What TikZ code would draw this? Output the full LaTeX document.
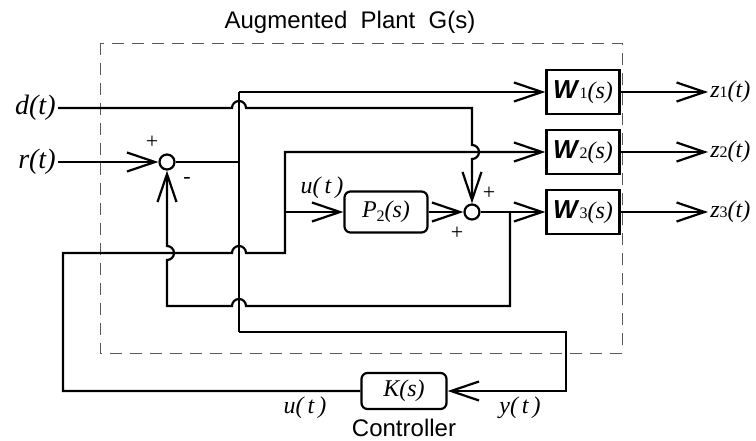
\documentclass[tikz,border=0pt]{standalone}
\usepackage{fontspec}
\setmainfont{Liberation Serif}
\setsansfont{Liberation Sans}
\usepackage{tikz}
\usetikzlibrary{arrows.meta,positioning}

\begin{document}
\begin{tikzpicture}[
  x=0.5pt, y=-0.5pt,
  block/.style={rectangle, draw, line width=1.1pt, minimum width=36.5pt,
                minimum height=22pt, inner sep=1pt, fill=white,
                font=\fontsize{12}{14}\selectfont},
  rblock/.style={block, rounded corners=3pt, minimum width=#1},
  sum/.style={circle, draw, line width=1.1pt, minimum size=7.5pt,
              inner sep=0pt, fill=white},
  arrow/.style={-{Straight Barb[length=14pt,width=9.5pt,line width=1.1pt]},
                line width=1.1pt},
  wire/.style={line width=1.1pt},
  note/.style={font=\itshape\fontsize{12}{14}\selectfont, inner sep=1pt},
  big/.style={font=\itshape\fontsize{14}{16}\selectfont, inner sep=1pt},
  sign/.style={font=\fontsize{11}{12}\selectfont, inner sep=0pt},
  title/.style={font=\sffamily\fontsize{12}{14}\selectfont},
  node distance=1pt
]
  \useasboundingbox (0,0) rectangle (756,440);

  % augmented plant frame
  \draw[dashed, dash pattern=on 6pt off 4pt, line width=0.5pt, gray!70!black]
    (100,43) rectangle (622,353);
  \node[title] (gtitle) at (350,22) {Augmented\ \ Plant\ \ G(s)};

  % inputs
  \node[big, anchor=east] (dlab) at (58,108) {d(t)};
  \node[big, anchor=east] (rlab) at (58,162) {r(t)};

  % blocks
  \node[sum] (s1) at (167,162) {};
  \node[sum] (s2) at (472,212) {};
  \node[rblock=41.5pt, minimum height=20.5pt] (P2) at (386,212)
    {\textit{P}\raisebox{-2pt}{\fontsize{8}{8}\selectfont 2}\textit{(s)}};
  \node[block] (W1) at (583,92)
    {{\fontsize{13}{14}\selectfont\textsf{\textbf{\textit{W}}}}{\fontsize{8}{8}\selectfont 1}\textit{(s)}};
  \node[block] (W2) at (583,152)
    {{\fontsize{13}{14}\selectfont\textsf{\textbf{\textit{W}}}}{\fontsize{8}{8}\selectfont 2}\textit{(s)}};
  \node[block] (W3) at (583,212)
    {{\fontsize{13}{14}\selectfont\textsf{\textbf{\textit{W}}}}{\fontsize{8}{8}\selectfont 3}\textit{(s)}};
  \node[rblock=42.5pt, minimum height=18pt] (K) at (404,391) {\textit{K(s)}};
  \node[title, below=of K] (ctl) {Controller};

  % outputs
  \node[note, anchor=west] (z1) at (708,92)
    {z{\upshape\fontsize{8}{8}\selectfont 1}(t)};
  \node[note, anchor=west] (z2) at (708,152)
    {z{\upshape\fontsize{8}{8}\selectfont 2}(t)};
  \node[note, anchor=west] (z3) at (708,212)
    {z{\upshape\fontsize{8}{8}\selectfont 3}(t)};

  % signal labels and signs
  \node[note] (ulab) at (322,188) {u(\,t\,)};
  \node[note] (uklab) at (305,408) {u(\,t\,)};
  \node[note] (ylab) at (520,408) {y(\,t\,)};
  \node[sign] (p1) at ([shift={(-15,-20)}]s1) {+};
  \node[sign] (m1) at ([shift={(20,18)}]s1) {-};
  \node[sign] (p2) at ([shift={(17,-19)}]s2) {+};
  \node[sign] (p3) at ([shift={(-15,21)}]s2) {+};

  % corners and crossings
  \coordinate (eT) at (239,92);
  \coordinate (eJ) at (239,162);
  \coordinate (eB) at (239,332);
  \coordinate (yC) at (566,332);
  \coordinate (uB) at (63,253);
  \coordinate (uR) at (285,253);
  \coordinate (uP) at (285,212);
  \coordinate (fT) at (510,212);
  \coordinate (fB) at (510,306);
  \coordinate (fL) at (167,306);
  \coordinate (c1) at (239,108);
  \coordinate (c2) at (239,253);
  \coordinate (c3) at (239,306);
  \coordinate (c4) at (167,253);
  \coordinate (c5) at (472,152);

  % connections
  \draw[arrow] (rlab) -- (s1);
  \draw[arrow] (dlab.east) -- ([xshift=-3.5pt]c1)
    arc[start angle=180, end angle=0, radius=3.5pt] -- (s2 |- c1)
    -- ([yshift=3.5pt]c5) arc[start angle=90, end angle=-90, radius=3.5pt] -- (s2);

  \draw[wire] (s1) -- (eJ);
  \draw[wire] (eT) -- (eB);
  \draw[arrow] (eT) -- (W1);
  \draw[arrow] (eB) -- (yC) |- (K.east);

  \draw[arrow] (K.west) -| (uB) -- ([xshift=-3.5pt]c2)
    arc[start angle=180, end angle=0, radius=3.5pt] -- (uR) |- (W2.west);
  \draw[arrow] (uP) -- (P2);

  \draw[arrow] (P2) -- (s2);
  \draw[arrow] (s2) -- (W3);
  \draw[arrow] (fT) -- (fB) -- ([xshift=3.5pt]c3)
    arc[start angle=0, end angle=180, radius=3.5pt] -- (fL)
    -- ([yshift=-3.5pt]c4) arc[start angle=-90, end angle=90, radius=3.5pt] -- (s1);

  \draw[arrow] (W1) -- (z1.west);
  \draw[arrow] (W2) -- (z2.west);
  \draw[arrow] (W3) -- (z3.west);
\end{tikzpicture}
\end{document}
